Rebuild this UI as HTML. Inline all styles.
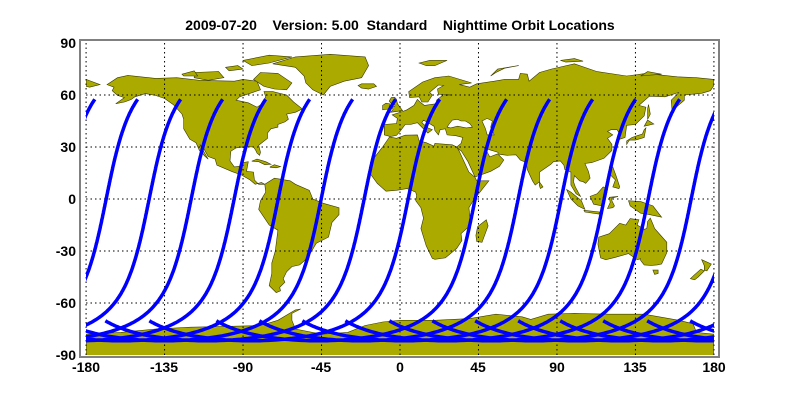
<!DOCTYPE html>
<html><head><meta charset="utf-8"><style>
html,body{margin:0;padding:0;background:#fff;width:800px;height:400px;overflow:hidden}
svg{display:block}
text{font-family:"Liberation Sans",Arial,sans-serif;font-weight:bold;fill:#000}
</style></head><body>
<svg id="s" width="800" height="400" xmlns="http://www.w3.org/2000/svg">
<defs><clipPath id="c"><rect x="86" y="43" width="628" height="312"/></clipPath></defs>
<text x="400" y="30" font-size="14" text-anchor="middle" xml:space="preserve">2009-07-20    Version: 5.00  Standard    Nighttime Orbit Locations</text>
<g id="land" clip-path="url(#c)"></g>
<g id="grid"></g>
<g id="trk" clip-path="url(#c)"></g>
<rect x="80" y="40" width="639" height="317" fill="none" stroke="#808080" stroke-width="2"/>
<g font-size="14" text-anchor="end">
<text x="76" y="48">90</text><text x="76" y="100">60</text><text x="76" y="152">30</text>
<text x="76" y="204">0</text><text x="76" y="256">-30</text><text x="76" y="308">-60</text><text x="76" y="360">-90</text>
</g>
<g font-size="14" text-anchor="middle">
<text x="86" y="372">-180</text><text x="164" y="372">-135</text><text x="243" y="372">-90</text>
<text x="321" y="372">-45</text><text x="400" y="372">0</text><text x="478" y="372">45</text>
<text x="557" y="372">90</text><text x="635" y="372">135</text><text x="714" y="372">180</text>
</g>
</svg>
<script>
var NS="http://www.w3.org/2000/svg";
function X(l){return 400+l*1.744}function Y(a){return 199-a*1.733}
function poly(pts,fill,par){var d="";for(var i=0;i<pts.length;i+=2)d+=(i?"L":"M")+X(pts[i]).toFixed(1)+","+Y(pts[i+1]).toFixed(1);d+="Z";
var p=document.createElementNS(NS,"path");p.setAttribute("d",d);p.setAttribute("fill",fill);p.setAttribute("stroke","#3a3a00");p.setAttribute("stroke-width","0.6");par.appendChild(p);}
var L=document.getElementById("land");var F="#aaaa00";
var shapes=[
[-168,66,-162,70,-156,71.3,-140,69.6,-128,70,-115,68.5,-95,68,-90,69,-82,68,-80,63,-92,59,-94,57,-87,55.5,-82,53,-79,55,-77,59,-78,62,-73,62,-65,60,-61,56,-56,52,-60,50,-65,49,-64,46,-66,44.5,-70,43,-70,41.5,-74,40.5,-76,38,-76,35,-81,31,-80,27,-80.5,25.2,-82,26.5,-82.7,28,-84,30,-89,30.2,-94,29.5,-97,27.5,-97.5,22,-95,18.5,-91,19,-90.5,21,-87,21.5,-88,16,-84,15.5,-83.5,11,-81,8.5,-77.5,8.5,-79.5,9.5,-83,8.5,-86,11,-91,13.9,-96,15.7,-105,19.5,-106,23,-110,24.5,-112.5,29,-114.8,31.5,-114,30,-112,26.5,-110,23,-112,24.8,-115,28,-117,32.5,-120.5,34.5,-124,40.5,-124,46,-125,49,-130,54.5,-135,58,-140,59.7,-146,60.8,-152,59,-154,57.5,-158,56,-163,55,-158,58.5,-162,59.8,-165,62.5,-164,64.5],
[-73,78,-60,82,-40,83.5,-20,82,-18,77,-22,70,-32,68,-40,65,-44,60,-50,63,-54,67,-55,71,-60,76],
[-80,73,-70,72.5,-62,67,-65,63,-72,63.5,-78,65,-84,69],
[-118,73,-104,73.5,-101,70,-110,68.5,-118,70],
[-90,80,-75,83,-62,82,-75,78.5,-85,77],
[-125,72,-118,74,-116,71,-124,71],
[-100,76,-93,77,-90,75,-98,74],
[-77.5,8.5,-72,12,-63,10.5,-60,8.5,-52,5,-50,0,-44,-2.5,-35,-5,-35,-9,-39,-13.5,-41,-22,-48,-25.5,-53,-34,-57.5,-38,-62,-39,-65,-42,-67,-46,-66,-48,-69,-51,-68.5,-53,-71,-54,-75,-50,-73.5,-43,-73.5,-37,-71.5,-30,-70,-18,-75,-15,-81,-6,-80,-1,-77,4],
[-9,37,-9,43,-2,43.5,-1.5,46.5,-4.5,48.5,1.5,50.5,4,51.5,8,54,10,57.5,12,55.5,14,54,21,55,21,57,24,59.5,30,60,22,60.5,21.5,63.5,25,65.5,22,65.8,17,61.5,18.5,60,16,56,12.5,56,11,59,5.5,58.5,5,62,13,67.5,20,70,28,71,41,67,34,66,40,64.5,44,66.5,54,68,60,69,68,69,69,72.5,73,72,74,68,80,73,87,75,100,78,113,73.5,130,71,141,72.5,159,70.5,170,70,180,69,180,65.5,178,62.5,173,61,163,60,163,57,156,51,155.5,57,160,61.5,152,59,143,59.3,137,54,141,53,140,48,135,43,130,42.5,129,35.5,126,34.5,126,37.5,124.5,40,121,40,119,39,122,37,119,35,121.5,31.5,121.5,28,117,23.5,110,21,106,20.5,108,16,109,12,106.5,9,105,10,103,10.5,100,13.5,99.5,10,100.5,7,103.5,1.5,101,3,98,8,98,15.5,94.5,17,94,19.5,92,22,88,21.5,86.5,20,80,15.5,80,10,77.5,8,76,10.5,73,17,72.5,21,69,22.5,66.5,25.5,61.5,25.2,57,25.8,56,27,51,28.5,48,30,50,27,51.5,24.3,56,26,59.5,22.5,57,18.8,52,16,43,12.7,39,21.5,35,28,34.5,28,32.5,30,35,32,36,35.5,32,36.5,27,37,26,40.5,23,40,22,37,20,39.5,19.5,42,13.5,45.5,12.5,44,16,41,18.5,40,16,38,12.5,41.5,10,44,6,43,3,43,0,39,-2,36.7,-5.5,36],
[-180,69,-172,66,-178,64.5,-180,65],
[-6,35.8,-10,30,-17,21,-17,14.5,-13,9,-8,4.5,-2,5,4,6,9,4,9.5,2,9,-1,12,-5,13.5,-11,12,-17,15,-27,18.5,-34.3,20,-34.8,26,-34,32.5,-28.5,35.5,-24,35,-20,40.5,-15,40,-10,39.5,-5,42,-1,51,10.5,44,10.5,43,12.5,39.5,15.5,37,21,34,27.5,32.5,30,30,31.3,20,32,19.5,30.5,15,32.5,11,33.5,10,37,3,36.8,-2,35],
[49.5,-12,50.5,-15.5,47,-25,44,-24.5,43.5,-21,44.5,-16],
[114,-22,113.5,-26,115,-34,118,-35,123,-33.8,131,-31.5,136,-35,138,-34.5,138,-35.5,140,-38,144,-38.3,147.5,-38,150,-37.5,153,-31,153,-25,149,-20.5,146,-17,145,-14.5,143.5,-11,142,-13,141.5,-17,140,-17.5,136,-15,137,-12,132,-11.3,129.5,-15,126,-14,122,-18,120,-20],
[145,-41,148,-41,148,-43,146,-43.5],
[173,-35,178.5,-37.5,176,-41.5,174.5,-41,174.5,-38.5],
[172.5,-40.5,174.5,-41.5,171,-45,169,-46.6,166.5,-46,168.5,-44],
[131,-1,138,-1.5,145,-4,150,-10.5,143,-9,138,-8.2,132,-4],
[109,1.5,111,-3,116,-4,118,1,119,5.5,116.5,7,113,3],
[95.5,5.5,98,4,104,-1,106,-6,102,-4,98,0],
[105.5,-6.5,114.5,-7.5,114,-8.7,106,-7.5],
[119,-5.5,120.5,-2,120,1,125,1.5,121.5,0.5,121.5,-1,123,-4,122,-5],
[120,18.5,122,18.5,124,13,126,7,125.5,6,122,7,123.5,11,120,14.5],
[130,31.5,131.5,34,135,34,140,35.5,141,41,140,40,139,37.5,136,36.5,133,35.5,130,33.5],
[140,42,145.5,43.3,142,45.5],
[142,46,143.5,49,142.5,54.5,142,52],
[80,9.8,82,7,80.5,6,79.8,8],
[-5.5,50,1.5,51,0,53,-1.5,55,-2,57.5,-3,58.6,-5,58.5,-6.2,56.5,-5,55,-3,54.5,-3,53.5,-4.5,53,-4,51.5],
[-6,52,-6,55,-8,55.3,-10,54,-10,51.5],
[-24,65.5,-22,66.5,-15,66.5,-13.5,65,-18,63.4,-22,64],
[11,78.5,17,80,27,80,20,77,15,77],
[52,71,56,75,68,77,60,75.5,55,73],
[95,79,105,79.5,100,81,92,80],
[138,71,150,72,142,73.5],
[-85,21.8,-82,23,-77,21.5,-74,20,-77.5,19.8,-81,21.5],
[-74.5,18.5,-72,19.8,-68.5,18.7,-71,18,-74.5,18.3],
[-180,-78,-160,-77,-150,-76,-140,-75,-120,-74,-100,-73.5,-80,-73,-70,-70,-60,-64,-57,-63.5,-62,-66,-62,-70,-60,-75,-45,-78,-30,-77,-20,-73,-10,-71,0,-70,20,-70,40,-69,55,-66.5,70,-68,75,-69.5,85,-66.5,100,-66,120,-66.5,140,-66.5,160,-70,168,-72,170,-77,180,-78,180,-95,-180,-95]
];
shapes.forEach(function(s){poly(s,F,L)});
poly([27,41.5,29,41,33,42,38,41,41.5,41.5,40,43.5,37.5,45,35,45,33,46,30,45.5,28,43],"#fff",L);
poly([47,45,50,46.5,53,45,52,41.5,54,37,50,37,49,40.5],"#fff",L);
// grid
var G=document.getElementById("grid");
function line(x1,y1,x2,y2){var l=document.createElementNS(NS,"line");l.setAttribute("x1",x1);l.setAttribute("y1",y1);l.setAttribute("x2",x2);l.setAttribute("y2",y2);l.setAttribute("stroke","#000");l.setAttribute("stroke-width","1");l.setAttribute("stroke-dasharray","1.5,3");G.appendChild(l);}
for(var lo=-180;lo<=180;lo+=45)line(X(lo),43,X(lo),355);
for(var la=-60;la<=60;la+=30)line(86,Y(la),714,Y(la));
// tracks
var T=document.getElementById("trk");
var tops=[138,181,223,266,310,353,396,440,507,550,593,636,680,723];
tops.forEach(function(px){
 var topLon=(px-86)/1.744-180; var L0=topLon-18.3;
 [-360,0,360].forEach(function(off){
  var d="";
  for(var u=-108;u<=58.8;u+=0.5){
   var r=u*Math.PI/180;
   var lat=Math.asin(0.9898*Math.sin(r))*180/Math.PI;
   var lon=L0+off+Math.atan2(0.2*Math.sin(r),Math.cos(r))*180/Math.PI;
   d+=(d?"L":"M")+X(lon).toFixed(1)+","+Y(lat).toFixed(1);
  }
  var p=document.createElementNS(NS,"path");p.setAttribute("d",d);p.setAttribute("fill","none");p.setAttribute("stroke","#0000ff");p.setAttribute("stroke-width","3.5");p.setAttribute("stroke-linejoin","round");T.appendChild(p);
 });
});
</script>
</body></html>
